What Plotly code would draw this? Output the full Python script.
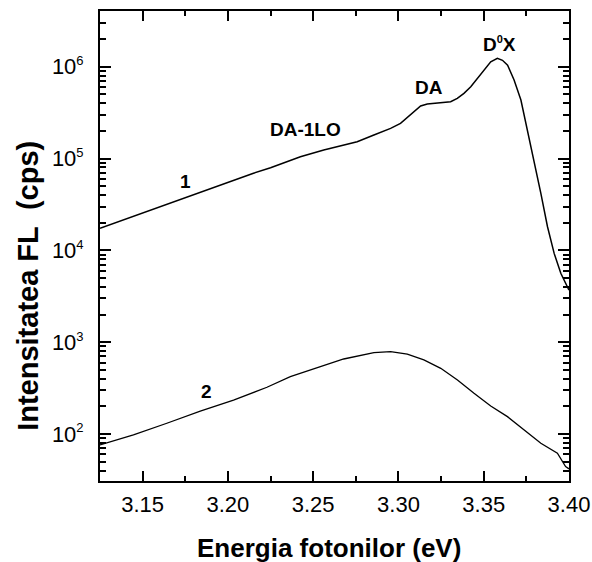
import plotly.graph_objects as go

# Curve 1 (sample 1)
energy_1 = [3.125, 3.135, 3.145, 3.155, 3.165, 3.175, 3.185, 3.195, 3.205, 3.215,
            3.225, 3.235, 3.2425, 3.2562, 3.266, 3.2758, 3.2856, 3.2954, 3.3012,
            3.3071, 3.313, 3.3169, 3.3228, 3.3306, 3.3345, 3.3384, 3.3424, 3.3463,
            3.3502, 3.3541, 3.358, 3.361, 3.364, 3.3678, 3.3718, 3.3757, 3.3796,
            3.3835, 3.3874, 3.3913, 3.3952, 3.400]
intensity_1 = [17400, 20300, 23700, 27500, 32200, 37600, 43600, 51300, 58900, 69200,
               79400, 93300, 104700, 123900, 138000, 152400, 180300, 213300, 241500,
               297900, 373300, 392600, 405500, 415900, 452900, 512900, 605300, 746400,
               920400, 1132000, 1233000, 1175000, 1042000, 716000, 433500, 204200, 96400,
               41800, 18070, 9270, 5620, 3690]

# Curve 2 (sample 2)
energy_2 = [3.125, 3.1446, 3.1642, 3.1838, 3.2033, 3.2229, 3.2366, 3.2425, 3.2562,
            3.2679, 3.2856, 3.2954, 3.3052, 3.3149, 3.3248, 3.3346, 3.3443, 3.3541,
            3.3639, 3.3737, 3.3835, 3.3932, 3.398, 3.400]
intensity_2 = [75.9, 97.7, 130.9, 177.8, 234.4, 322.8, 421.7, 458, 550.8,
               656, 769, 789, 743, 640, 519, 387, 277, 202,
               154.5, 110.7, 79.3, 61.7, 44.1, 41.7]

x_ticks = [3.15, 3.20, 3.25, 3.30, 3.35, 3.40]
x_tick_labels = ["3.15", "3.20", "3.25", "3.30", "3.35", "3.40"]
y_ticks = [1e2, 1e3, 1e4, 1e5, 1e6]
y_exponents = ["2", "3", "4", "5", "6"]
y_tick_labels = ['10<sup><span style="font-size:13px">' + e + '</span></sup>' for e in y_exponents]

# annotations: (x, log10(y), text)
labels = [
    (3.1749, 4.747, "1"),
    (3.1877, 2.461, "2"),
    (3.2454, 5.319, "DA-1LO"),
    (3.3180, 5.777, "DA"),
    (3.3594, 6.250, 'D<sup><span style="font-size:11px">0</span></sup>X'),
]

FONT = "Arial, Liberation Sans, sans-serif"

fig = go.Figure()
fig.add_trace(go.Scatter(x=energy_1, y=intensity_1, mode="lines",
                         line=dict(color="black", width=1.5), showlegend=False))
fig.add_trace(go.Scatter(x=energy_2, y=intensity_2, mode="lines",
                         line=dict(color="black", width=1.3), showlegend=False))

for x, ly, t in labels:
    fig.add_annotation(x=x, y=ly, yref="y", xref="x", text="<b>" + t + "</b>",
                       showarrow=False, font=dict(family=FONT, size=19, color="black"))

# axis titles as annotations (positioned like the reference)
fig.add_annotation(x=0.489, y=-0.1426, xref="paper", yref="paper",
                   text="<b>Energia fotonilor (eV)</b>", showarrow=False,
                   xanchor="center", yanchor="middle",
                   font=dict(family=FONT, size=26, color="black"))
fig.add_annotation(x=-0.1537, y=0.415, xref="paper", yref="paper",
                   text="<b>Intensitatea FL&nbsp; (cps)</b>", showarrow=False,
                   textangle=-90, xanchor="center", yanchor="middle",
                   font=dict(family=FONT, size=29, color="black"))

fig.update_layout(
    width=592, height=562,
    margin=dict(l=100, r=23, t=11, b=81),
    paper_bgcolor="white", plot_bgcolor="white",
    font=dict(family=FONT, color="black"),
)
fig.update_xaxes(
    range=[3.125, 3.40], tickvals=x_ticks, ticktext=x_tick_labels,
    ticks="inside", ticklen=10, tickwidth=2, tickcolor="black",
    showline=True, linewidth=2, linecolor="black", mirror="ticks",
    showgrid=False, zeroline=False, ticklabelstandoff=3, automargin=False,
    tickfont=dict(family=FONT, size=22, color="black"),
    minor=dict(tick0=3.125, dtick=0.05, ticks="inside", ticklen=5, tickwidth=2, tickcolor="black"),
)
fig.update_yaxes(
    type="log", range=[1.488, 6.607], tickvals=y_ticks, ticktext=y_tick_labels,
    ticks="inside", ticklen=11, tickwidth=2, tickcolor="black",
    showline=True, linewidth=2, linecolor="black", mirror="ticks",
    showgrid=False, zeroline=False, ticklabelstandoff=10, automargin=False,
    tickfont=dict(family=FONT, size=22, color="black"),
    minor=dict(dtick="D1", ticks="inside", ticklen=6, tickwidth=1.5, tickcolor="black"),
)

fig.write_html("out.html")
